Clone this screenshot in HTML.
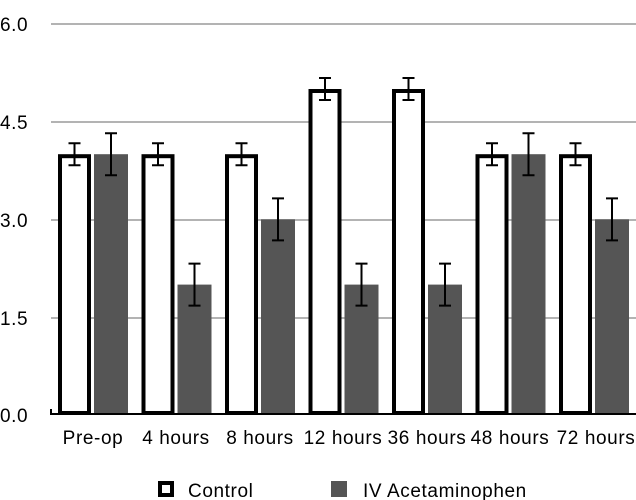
<!DOCTYPE html>
<html><head><style>body{margin:0;background:#fff}svg{display:block}text{font-family:"Liberation Sans",Arial,sans-serif;font-size:19px;letter-spacing:0.6px;fill:#000}</style></head>
<body>
<svg width="636" height="500" viewBox="0 0 636 500">
<g stroke="#b3b3b3" stroke-width="2">
<line x1="51" y1="24" x2="636" y2="24"/>
<line x1="51" y1="122" x2="636" y2="122"/>
<line x1="51" y1="220" x2="636" y2="220"/>
<line x1="51" y1="318" x2="636" y2="318"/>
</g>
<text x="0" y="31">6.0</text>
<text x="0" y="129">4.5</text>
<text x="0" y="227">3.0</text>
<text x="0" y="325">1.5</text>
<text x="0" y="422">0.0</text>
<g fill="#fff" stroke="#000" stroke-width="4">
<rect x="60" y="156.2" width="29" height="256.8"/>
<rect x="143.5" y="156.2" width="29" height="256.8"/>
<rect x="227" y="156.2" width="29" height="256.8"/>
<rect x="310.5" y="91" width="29" height="322"/>
<rect x="394" y="91" width="29" height="322"/>
<rect x="477.5" y="156.2" width="29" height="256.8"/>
<rect x="561" y="156.2" width="29" height="256.8"/>
</g>
<g fill="#555">
<rect x="94" y="154.2" width="34" height="259.8"/>
<rect x="177.5" y="284.6" width="34" height="129.4"/>
<rect x="261" y="219.4" width="34" height="194.6"/>
<rect x="344.5" y="284.6" width="34" height="129.4"/>
<rect x="428" y="284.6" width="34" height="129.4"/>
<rect x="511.5" y="154.2" width="34" height="259.8"/>
<rect x="595" y="219.4" width="34" height="194.6"/>
</g>
<g stroke="#000" stroke-width="2" fill="none">
<path d="M74.5 143.2V165.2M68.5 143.2H80.5M68.5 165.2H80.5"/>
<path d="M158 143.2V165.2M152 143.2H164M152 165.2H164"/>
<path d="M241.5 143.2V165.2M235.5 143.2H247.5M235.5 165.2H247.5"/>
<path d="M325 78V100M319 78H331M319 100H331"/>
<path d="M408.5 78V100M402.5 78H414.5M402.5 100H414.5"/>
<path d="M492 143.2V165.2M486 143.2H498M486 165.2H498"/>
<path d="M575.5 143.2V165.2M569.5 143.2H581.5M569.5 165.2H581.5"/>
<path d="M111 133.2V175.2M105 133.2H117M105 175.2H117"/>
<path d="M194.5 263.6V305.6M188.5 263.6H200.5M188.5 305.6H200.5"/>
<path d="M278 198.4V240.4M272 198.4H284M272 240.4H284"/>
<path d="M361.5 263.6V305.6M355.5 263.6H367.5M355.5 305.6H367.5"/>
<path d="M445 263.6V305.6M439 263.6H451M439 305.6H451"/>
<path d="M528.5 133.2V175.2M522.5 133.2H534.5M522.5 175.2H534.5"/>
<path d="M612 198.4V240.4M606 198.4H618M606 240.4H618"/>
</g>
<line x1="50" y1="414" x2="636" y2="414" stroke="#000" stroke-width="2"/>
<line x1="51" y1="409" x2="51" y2="415" stroke="#000" stroke-width="2"/>
<g text-anchor="middle">
<text x="93" y="444">Pre-op</text>
<text x="176" y="444">4 hours</text>
<text x="260" y="444">8 hours</text>
<text x="343" y="444">12 hours</text>
<text x="427" y="444">36 hours</text>
<text x="510" y="444">48 hours</text>
<text x="596" y="444">72 hours</text>
</g>
<rect x="160" y="483" width="12" height="12" fill="#fff" stroke="#000" stroke-width="4"/>
<text x="188" y="497">Control</text>
<rect x="331" y="481" width="16" height="16" fill="#555"/>
<text x="363" y="497">IV Acetaminophen</text>
</svg>
</body></html>
